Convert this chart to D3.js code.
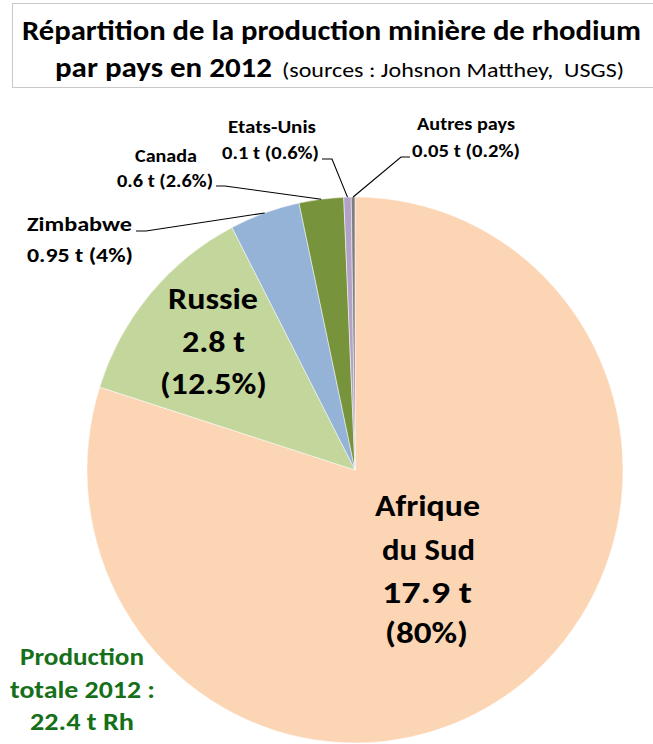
<!DOCTYPE html>
<html>
<head>
<meta charset="utf-8">
<script src="https://cdn.jsdelivr.net/npm/d3@7"></script>
<style>
  html, body { margin: 0; padding: 0; background: #fff; }
  svg { display: block; font-family: Carlito, Calibri, Lato, "Open Sans", sans-serif; }
  text { white-space: pre; }
</style>
</head>
<body>
<svg id="chart" width="653" height="744"></svg>
<script>
// Rhodium mine production by country, 2012 (tonnes)
const countries = ["Afrique du Sud", "Russie", "Zimbabwe", "Canada", "Etats-Unis", "Autres pays"];
const tonnes    = [17.9, 2.8, 0.95, 0.6, 0.1, 0.05];
const shares    = ["80%", "12.5%", "4%", "2.6%", "0.6%", "0.2%"];
const colours   = ["#fcd5b5", "#c3d69b", "#95b3d7", "#77933c", "#b3a2c7", "#7f7f7f"];
const totalText = ["Production", "totale 2012 :", "22.4 t Rh"];

const svg = d3.select("#chart");

// Title box
svg.append("rect")
  .attr("x", 12.5).attr("y", 3.5).attr("width", 660).attr("height", 84)
  .attr("fill", "#fff").attr("stroke", "#c8c8c8").attr("stroke-width", 1);

function fit(t, w) {
  t.attr("textLength", w).attr("lengthAdjust", "spacingAndGlyphs");
  return t;
}

fit(svg.append("text").attr("x", 22).attr("y", 40)
  .attr("font-size", 28).attr("font-weight", "bold")
  .text("Répartition de la production minière de rhodium"), 619);
fit(svg.append("text").attr("x", 55).attr("y", 77)
  .attr("font-size", 28).attr("font-weight", "bold")
  .text("par pays en 2012"), 217);
fit(svg.append("text").attr("x", 282).attr("y", 77)
  .attr("font-size", 20)
  .text("(sources : Johsnon Matthey,  USGS)"), 342);

// Pie geometry (slightly taller than wide)
const cx = 355, cy = 470, ry = 273, rx = 268;

const pie = d3.pie().sort(null).value(d => d)
  .startAngle(0).endAngle(2 * Math.PI);
const arcs = pie(tonnes);
const arc = d3.arc().innerRadius(0).outerRadius(ry);

const g = svg.append("g")
  .attr("transform", `translate(${cx},${cy}) scale(${rx / ry},1)`);
g.selectAll("path").data(arcs).join("path")
  .attr("d", arc)
  .attr("fill", (d, i) => colours[i])
  .attr("stroke", "#fff").attr("stroke-width", 0.5);

function edgePoint(d) {
  const a = (d.startAngle + d.endAngle) / 2;
  return [cx + rx * Math.sin(a), cy - ry * Math.cos(a)];
}

// Labels inside the two large slices
const inside = [
  { i: 0, lines: [["Afrique", 375, 516, 105], ["du Sud", 382, 560, 93], [`${tonnes[0]} t`, 382, 603, 90], [`(${shares[0]})`, 385, 643, 83]] },
  { i: 1, lines: [["Russie", 168, 309, 90], [`${tonnes[1]} t`, 182, 352, 63], [`(${shares[1]})`, 160, 394, 107]] }
];
inside.forEach(lab => {
  lab.lines.forEach(([txt, x, y, w]) => {
    fit(svg.append("text").attr("x", x).attr("y", y)
      .attr("font-size", 31).attr("font-weight", "bold").attr("fill", "#000")
      .text(txt), w);
  });
});

// Outside labels with leader lines
const outside = [
  { i: 2, size: 20, name: [27, 231, 105], val: [27, 262, 106], line: [[136, 231], [146, 231]] },
  { i: 3, size: 17, name: [135, 162, 62], val: [117, 187, 96], line: [[216, 186], [225, 186]] },
  { i: 4, size: 17, name: [228, 133, 88], val: [222, 159, 97], line: [[322, 159], [332, 159]] },
  { i: 5, size: 17, name: [417, 130, 98], val: [412, 157, 108], line: [[410, 157], [401, 157]] }
];
outside.forEach(o => {
  const pts = o.line.concat([edgePoint(arcs[o.i])]);
  svg.append("path")
    .attr("d", d3.line()(pts))
    .attr("fill", "none").attr("stroke", "#000").attr("stroke-width", 1.1);
  fit(svg.append("text").attr("x", o.name[0]).attr("y", o.name[1])
    .attr("font-size", o.size).attr("font-weight", "bold")
    .text(countries[o.i]), o.name[2]);
  fit(svg.append("text").attr("x", o.val[0]).attr("y", o.val[1])
    .attr("font-size", o.size).attr("font-weight", "bold")
    .text(`${tonnes[o.i]} t (${shares[o.i]})`), o.val[2]);
});

// Total production note
const totPos = [[20, 665, 124], [10, 698, 145], [30, 730, 104]];
totalText.forEach((t, k) => {
  fit(svg.append("text").attr("x", totPos[k][0]).attr("y", totPos[k][1])
    .attr("font-size", 24).attr("font-weight", "bold").attr("fill", "#16701a")
    .text(t), totPos[k][2]);
});
</script>
</body>
</html>
